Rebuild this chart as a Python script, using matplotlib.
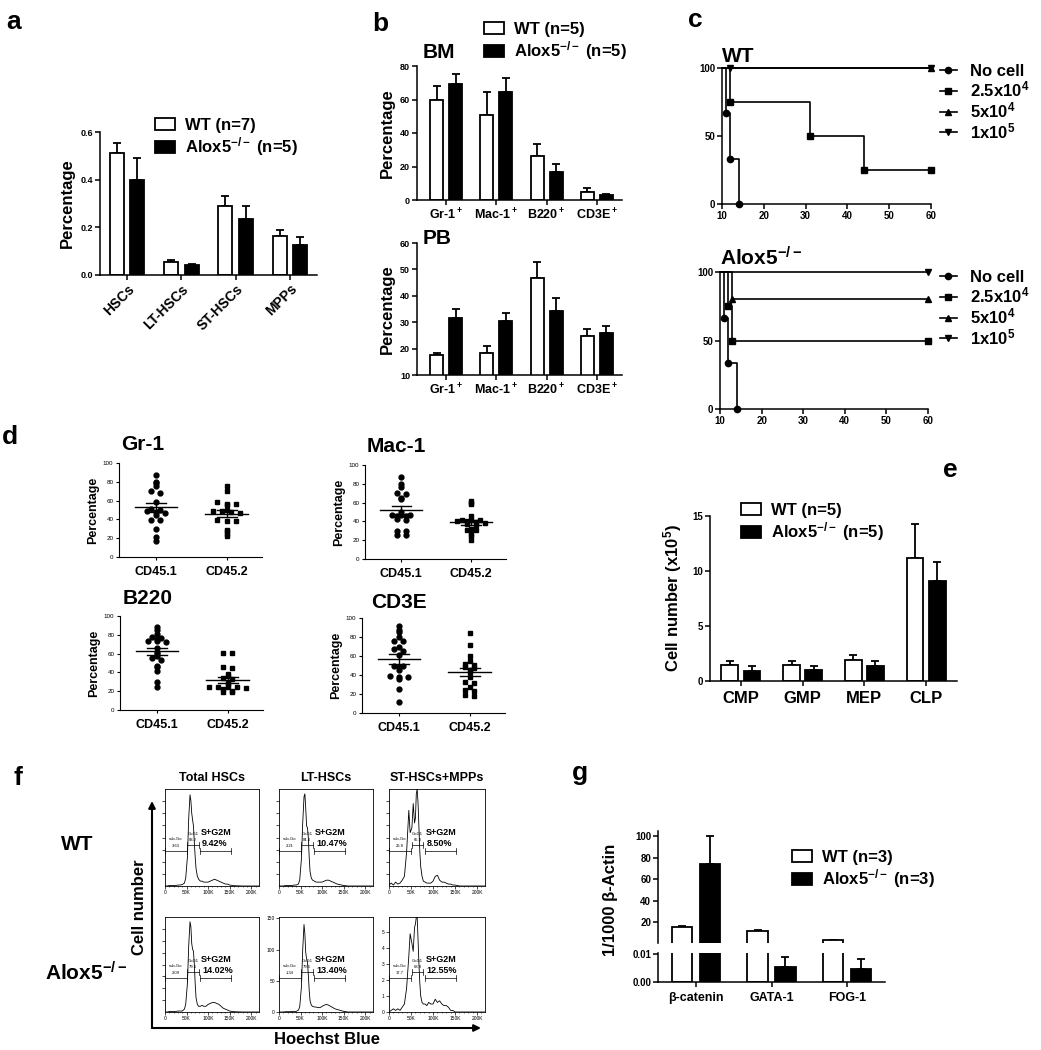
import numpy as np
import matplotlib
matplotlib.use('Agg')
import matplotlib.pyplot as plt
from matplotlib.patches import Patch, FancyArrowPatch
from matplotlib.lines import Line2D
import matplotlib.transforms as mtrans

plt.rcParams['font.family'] = ['Liberation Sans', 'DejaVu Sans']
plt.rcParams['font.weight'] = 'bold'
plt.rcParams['axes.labelweight'] = 'bold'
plt.rcParams['mathtext.fontset'] = 'custom'
plt.rcParams['mathtext.rm'] = 'Liberation Sans:bold'
plt.rcParams['mathtext.it'] = 'Liberation Sans:bold'
plt.rcParams['mathtext.bf'] = 'Liberation Sans:bold'
plt.rcParams['axes.linewidth'] = 1.1

# ---- data ----
# a: stem/progenitor frequencies
a_cats = ['HSCs', 'LT-HSCs', 'ST-HSCs', 'MPPs']
a_wt = [0.51, 0.055, 0.29, 0.165]
a_wt_sem = [0.045, 0.007, 0.04, 0.025]
a_ko = [0.40, 0.042, 0.235, 0.125]
a_ko_sem = [0.09, 0.004, 0.053, 0.036]

# b: lineages in BM and PB
b_cats = ['Gr-1$^+$', 'Mac-1$^+$', 'B220$^+$', 'CD3E$^+$']
bm_wt = [59.5, 50.5, 26.5, 4.8]
bm_wt_sem = [8.5, 14.0, 7.0, 2.6]
bm_ko = [69.0, 64.5, 17.0, 3.0]
bm_ko_sem = [6.5, 8.5, 4.3, 0.6]
pb_wt = [17.5, 18.2, 46.8, 24.7]
pb_wt_sem = [1.0, 2.6, 6.0, 2.7]
pb_ko = [31.5, 30.6, 34.4, 26.0]
pb_ko_sem = [3.5, 3.0, 4.6, 2.7]

# c: survival (days, percent survival)
c_labels = ['No cell', '2.5x10$^4$', '5x10$^4$', '1x10$^5$']
c_markers = ['o', 's', '^', 'v']
wt_days = [[10, 11, 12, 14], [10, 12, 31, 44, 60], [10, 60], [10, 12, 60]]
wt_surv = [[100, 66.7, 33.3, 0], [100, 75, 50, 25, 25], [100, 100], [100, 100, 100]]
ko_days = [[10, 11, 12, 14], [10, 12, 13, 60], [10, 13, 60], [10, 60]]
ko_surv = [[100, 66.7, 33.3, 0], [100, 75, 50, 50], [100, 80, 80], [100, 100]]

# d: donor chimerism
d_titles = ['Gr-1', 'Mac-1', 'B220', 'CD3E']
d_groups = ['CD45.1', 'CD45.2']
gr1_wt = [87, 80, 79, 75, 70, 68, 58, 51, 50, 49, 48, 47, 45, 39, 39, 30, 21, 17]
gr1_ko = [75, 70, 58, 56, 56, 55, 50, 49, 49, 48, 47, 39, 38, 38, 29, 28, 24, 22]
mac_wt = [87, 80, 77, 70, 69, 65, 64, 50, 47, 47, 47, 46, 46, 43, 42, 30, 30, 26, 26]
mac_ko = [62, 60, 58, 46, 42, 41, 41, 40, 40, 39, 38, 37, 36, 32, 31, 31, 27, 24, 20]
b220_wt = [88, 85, 81, 78, 77, 76, 73, 73, 72, 66, 62, 60, 57, 55, 53, 47, 46, 42, 30, 25]
b220_ko = [61, 61, 46, 45, 38, 36, 34, 33, 29, 28, 25, 25, 24, 24, 23, 22, 20, 19, 19]
cd3e_wt = [92, 87, 85, 80, 76, 76, 69, 67, 65, 61, 50, 50, 48, 45, 39, 38, 38, 36, 25, 12]
cd3e_ko = [84, 72, 60, 55, 52, 51, 48, 47, 45, 43, 38, 33, 32, 27, 24, 23, 19, 18]

# e: progenitor numbers (x10^5)
e_cats = ['CMP', 'GMP', 'MEP', 'CLP']
e_wt = [1.45, 1.45, 1.9, 11.2]
e_wt_sem = [0.4, 0.35, 0.5, 3.1]
e_ko = [0.95, 1.0, 1.35, 9.1]
e_ko_sem = [0.45, 0.4, 0.5, 1.7]

# f: Hoechst histograms (x in K)
f_cols = ['Total HSCs', 'LT-HSCs', 'ST-HSCs+MPPs']
f_x = [0, 5, 10, 15, 20, 25, 30, 35, 40, 45, 48, 52, 55, 58, 60, 62, 64, 66, 68, 70,
       72, 75, 78, 82, 86, 90, 95, 100, 105, 110, 115, 120, 125, 130, 135, 140, 145,
       150, 160, 180, 220]
wt_total = [0, 0, 0.5, 0.5, 0.5, 0.5, 1, 1, 1.5, 3, 8, 30, 70, 94, 88, 75, 68, 62, 45, 30,
            18, 10, 7, 5, 5, 4, 4, 4, 5, 6, 7, 6, 5, 4, 3, 2, 2, 1, 0.3, 0, 0]
wt_lt = [0, 0, 0, 0.5, 0.5, 0.5, 0.5, 1, 1, 2, 6, 28, 65, 92, 95, 80, 62, 60, 50, 30,
         15, 8, 6, 5, 4, 4, 4, 4, 5, 6, 6, 5, 4, 3, 2, 1.5, 1, 0.5, 0, 0, 0]
wt_st = [1, 3, 1, 4, 2, 3, 6, 10, 35, 78, 55, 60, 85, 65, 70, 95, 100, 85, 60, 35,
         20, 10, 5, 4, 3, 3, 3, 5, 10, 11, 6, 4, 4, 3, 2, 2, 1, 1, 0, 0, 0]
ko_total = [0, 0, 0.5, 0.5, 0.5, 0.5, 1, 1, 1, 3, 8, 30, 70, 95, 90, 72, 66, 64, 50, 30,
            15, 8, 6, 6, 7, 6, 6, 8, 9, 10, 10, 9, 8, 6, 4, 3, 2, 1, 0.3, 0, 0]
ko_lt = [0, 0, 0, 0.5, 0.5, 0.5, 1, 1, 1, 3, 8, 40, 100, 140, 125, 95, 85, 80, 60, 35,
         18, 11, 9, 8, 8, 7, 7, 9, 11, 12, 11, 9, 7, 5, 4, 3, 2, 1, 0, 0, 0]
ko_st = [0, 0.1, 0.2, 0.1, 0.2, 0.1, 0.3, 0.5, 1.5, 3.5, 4.9, 4.3, 3.8, 5.3, 5.5, 5.95,
         5.95, 4.5, 3.0, 1.8, 1.0, 0.6, 0.5, 0.5, 0.4, 0.6, 0.5, 0.5, 0.8, 0.6, 0.7, 0.5,
         0.4, 0.4, 0.3, 0.1, 0.1, 0, 0, 0, 0]
f_sub = [['3.63', '2.21', '26.8'], ['2.09', '1.34', '17.7']]
f_g0g1 = [['83.2', '84.3', '65.3'], ['79.6', '79.5', '68.9']]
f_sg2m = [['9.42%', '10.47%', '8.50%'], ['14.02%', '13.40%', '12.55%']]

# g: qPCR relative to beta-actin
g_cats = ['\u03b2-catenin', 'GATA-1', 'FOG-1']
g_wt = [16, 12.5, 3.5]
g_wt_sem = [0.8, 0.5, 0.3]
g_ko = [74, 0.0053, 0.0046]
g_ko_sem = [26, 0.0036, 0.0036]

# ---- figure ----
W, H = 1041, 1050
fig = plt.figure(figsize=(W / 100, H / 100), dpi=100)


def add_ax(l, t, r, b):
    return fig.add_axes([l / W, 1 - b / H, (r - l) / W, (b - t) / H])


def fpos(x, y):
    return (x / W, 1 - y / H)


def ftext(x, y, s, size, **kw):
    kw.setdefault('ha', 'center')
    kw.setdefault('va', 'center')
    fig.text(x / W, 1 - y / H, s, fontsize=size, fontweight='bold', **kw)


def prism(ax, size=6.5):
    for s in ['top', 'right']:
        ax.spines[s].set_visible(False)
    ax.tick_params(direction='out', length=3.5, width=1.1, labelsize=size, pad=1.5)


def grouped_bars(ax, wt, wt_sem, ko, ko_sem, off=0.19, width=0.26, cap=3, floor=None):
    x = np.arange(len(wt))
    ax.bar(x - off, wt, width, color='white', edgecolor='black', lw=1.3, zorder=2)
    ax.bar(x + off, ko, width, color='black', edgecolor='black', lw=1.3, zorder=2)
    for xs, v, e in [(x - off, wt, wt_sem), (x + off, ko, ko_sem)]:
        v = np.asarray(v, float)
        e = np.asarray(e, float)
        keep = np.ones(len(v), bool) if floor is None else v > floor
        ax.errorbar(xs[keep], v[keep], yerr=[np.zeros(keep.sum()), e[keep]], fmt='none',
                    ecolor='black', elinewidth=1.3, capsize=cap, capthick=1.3, zorder=1)
    ax.set_xticks(x)


def bar_legend(ax, labels, xy, fs=12):
    handles = [Patch(facecolor='white', edgecolor='black', lw=1.3),
               Patch(facecolor='black', edgecolor='black', lw=1.3)]
    ax.legend(handles, labels, loc='upper left', bbox_to_anchor=fpos(*xy),
              bbox_transform=fig.transFigure, frameon=False, fontsize=fs,
              handlelength=1.2, handleheight=0.7, handletextpad=0.6,
              labelspacing=0.15, borderpad=0, borderaxespad=0)


# panel letters
for s, x, y in [('a', 14, 22), ('b', 380, 24), ('c', 695, 20), ('d', 10, 437),
                ('e', 950, 470), ('f', 18, 778), ('g', 580, 773)]:
    ftext(x, y, s, 19)

# ---- a ----
ax = add_ax(100, 132, 317, 275)
prism(ax)
grouped_bars(ax, a_wt, a_wt_sem, a_ko, a_ko_sem)
ax.set_xlim(-0.5, 3.5)
ax.set_ylim(0, 0.6)
ax.set_yticks([0, 0.2, 0.4, 0.6])
ax.set_xticklabels(a_cats, rotation=45, ha='right', rotation_mode='anchor', fontsize=10)
ax.set_ylabel('Percentage', fontsize=12, labelpad=4)
bar_legend(ax, ['WT (n=7)', 'Alox5$^{-/-}$ (n=5)'], (155, 118))

# ---- b ----
ax = add_ax(417, 66, 622, 200)
prism(ax)
grouped_bars(ax, bm_wt, bm_wt_sem, bm_ko, bm_ko_sem)
ax.set_xlim(-0.58, 3.5)
ax.set_ylim(0, 80)
ax.set_yticks([0, 20, 40, 60, 80])
ax.set_xticklabels(b_cats, fontsize=9)
ax.set_ylabel('Percentage', fontsize=12, labelpad=4)
bar_legend(ax, ['WT (n=5)', 'Alox5$^{-/-}$ (n=5)'], (484, 22))
ftext(423, 53, 'BM', 15, ha='left')

ax = add_ax(417, 243, 622, 375)
prism(ax)
grouped_bars(ax, pb_wt, pb_wt_sem, pb_ko, pb_ko_sem)
ax.set_xlim(-0.58, 3.5)
ax.set_ylim(10, 60)
ax.set_yticks([10, 20, 30, 40, 50, 60])
ax.set_xticklabels(b_cats, fontsize=9)
ax.set_ylabel('Percentage', fontsize=12, labelpad=4)
ftext(423, 238, 'PB', 15, ha='left')


# ---- c ----
def km_panel(box, days, surv, title, title_y, leg_xy):
    ax = add_ax(*box)
    prism(ax, size=7)
    for t, s, m in zip(days, surv, c_markers):
        ax.step(t, s, where='post', color='black', lw=1.2, clip_on=False)
        ax.plot(t[1:], s[1:], ls='none', marker=m, color='black', ms=4.5, clip_on=False)
    ax.set_xlim(10, 60)
    ax.set_ylim(0, 100)
    ax.set_xticks([10, 20, 30, 40, 50, 60])
    ax.set_yticks([0, 50, 100])
    handles = [Line2D([], [], color='black', lw=1.2, marker=m, ms=4.5) for m in c_markers]
    ax.legend(handles, c_labels, loc='upper left', bbox_to_anchor=fpos(*leg_xy),
              bbox_transform=fig.transFigure, frameon=False, fontsize=12,
              handlelength=1.0, handletextpad=0.8, labelspacing=0.05,
              borderpad=0, borderaxespad=0)
    ftext(box[0], title_y, title, 15, ha='left')
    return ax


km_panel((722, 68, 931, 204), wt_days, wt_surv, 'WT', 56, (940, 64))
km_panel((720, 272, 928, 409), ko_days, ko_surv, 'Alox5$^{-/-}$', 258, (940, 270))


# ---- d ----
def swarm_offsets(vals, bin_w=3.0, step=0.13):
    vals = np.asarray(vals, float)
    keys = np.round(vals / bin_w)
    offs = np.zeros(len(vals))
    for k in np.unique(keys):
        idx = np.where(keys == k)[0]
        offs[idx] = (np.arange(len(idx)) - (len(idx) - 1) / 2) * step
    return offs


d_sets = [(gr1_wt, gr1_ko), (mac_wt, mac_ko), (b220_wt, b220_ko), (cd3e_wt, cd3e_ko)]
d_boxes = [(119, 463, 262, 557), (365, 465, 506, 559), (120, 616, 263, 710), (362, 618, 505, 713)]
d_title_xy = [(121, 444), (367, 447), (123, 598), (371, 602)]
for (wt, ko), box, title, (tx, ty) in zip(d_sets, d_boxes, d_titles, d_title_xy):
    ax = add_ax(*box)
    prism(ax, size=4.5)
    ax.tick_params(length=2.5, width=0.8)
    for sp in ['left', 'bottom']:
        ax.spines[sp].set_linewidth(0.8)
    for i, (vals, m) in enumerate([(wt, 'o'), (ko, 's')]):
        v = np.asarray(vals, float)
        ax.plot(i + swarm_offsets(v), v, ls='none', marker=m, color='black',
                ms=3.5 if m == 'o' else 3.3)
        mean = v.mean()
        sem = v.std(ddof=1) / np.sqrt(len(v))
        ax.plot([i - 0.3, i + 0.3], [mean, mean], color='black', lw=1.0)
        ax.plot([i - 0.14, i + 0.14], [mean + sem] * 2, color='black', lw=1.0)
        ax.plot([i - 0.14, i + 0.14], [mean - sem] * 2, color='black', lw=1.0)
        ax.plot([i, i], [mean - sem, mean + sem], color='black', lw=1.0)
    ax.set_xlim(-0.52, 1.5)
    ax.set_ylim(0, 100)
    ax.set_yticks([0, 20, 40, 60, 80, 100])
    ax.set_xticks([0, 1])
    ax.set_xticklabels(d_groups, fontsize=9)
    ax.tick_params(axis='x', labelsize=9, pad=4)
    for lab in ax.get_yticklabels():
        lab.set_fontweight('normal')
    ax.set_ylabel('Percentage', fontsize=9, labelpad=3)
    ftext(tx, ty, title, 15, ha='left')

# ---- e ----
ax = add_ax(710, 516, 957, 681)
prism(ax, size=7)
grouped_bars(ax, e_wt, e_wt_sem, e_ko, e_ko_sem, off=0.18, width=0.27)
ax.set_xlim(-0.5, 3.5)
ax.set_ylim(0, 15)
ax.set_yticks([0, 5, 10, 15])
ax.set_xticklabels(e_cats, fontsize=12)
ax.tick_params(axis='x', pad=4)
ax.set_ylabel('Cell number (x10$^5$)', fontsize=12, labelpad=6)
bar_legend(ax, ['WT (n=5)', 'Alox5$^{-/-}$ (n=5)'], (741, 503))

# ---- f ----
f_hists = [[wt_total, wt_lt, wt_st], [ko_total, ko_lt, ko_st]]
f_xcols = [(165, 259), (279, 373), (389, 485)]
f_rows = [(789, 886), (917, 1012)]
f_ylims = [[100, 100, 100], [100, 152, 5.95]]
f_yticks = [[None, None, None], [None, [0, 50, 100, 150], [0, 1, 2, 3, 4, 5]]]
for r, (t, b) in enumerate(f_rows):
    for c, (l, rr) in enumerate(f_xcols):
        ax = add_ax(l, t, rr, b)
        ax.plot(f_x, f_hists[r][c], color='black', lw=0.6)
        ax.set_xlim(0, 218)
        ax.set_ylim(0, f_ylims[r][c])
        ax.set_xticks([0, 50, 100, 150, 200])
        ax.set_xticklabels(['0', '50K', '100K', '150K', '200K'])
        ax.set_xticks(np.arange(0, 220, 10), minor=True)
        if f_yticks[r][c] is None:
            ax.set_yticks(np.linspace(0, f_ylims[r][c], 9)[1:-1])
            ax.set_yticklabels([])
        else:
            ax.set_yticks(f_yticks[r][c])
        ax.tick_params(labelsize=3.5, length=2, width=0.5, pad=1)
        ax.tick_params(which='minor', length=1, width=0.4)
        for lab in ax.get_xticklabels() + ax.get_yticklabels():
            lab.set_fontweight('normal')
        for sp in ax.spines.values():
            sp.set_linewidth(0.6)
        tr = mtrans.blended_transform_factory(ax.transData, ax.transAxes)
        for (x0, x1, yy) in [(0, 50, 0.36), (52, 78, 0.42), (81, 152, 0.36)]:
            ax.plot([x0, x1], [yy, yy], color='black', lw=0.5, transform=tr)
            ax.plot([x0, x0], [yy - 0.03, yy + 0.03], color='black', lw=0.5, transform=tr)
            ax.plot([x1, x1], [yy - 0.03, yy + 0.03], color='black', lw=0.5, transform=tr)
        ax.text(25, 0.47, 'sub-Go', transform=tr, fontsize=3, ha='center', fontweight='normal')
        ax.text(25, 0.40, f_sub[r][c], transform=tr, fontsize=3, ha='center', fontweight='normal')
        ax.text(65, 0.53, 'GoG1', transform=tr, fontsize=3, ha='center', fontweight='normal')
        ax.text(65, 0.46, f_g0g1[r][c], transform=tr, fontsize=3, ha='center', fontweight='normal')
        ax.text(84, 0.53, 'S+G2M', transform=tr, fontsize=6.5, ha='left')
        ax.text(86, 0.41, f_sg2m[r][c], transform=tr, fontsize=6.5, ha='left')
for (l, rr), name in zip(f_xcols, f_cols):
    ftext((l + rr) / 2, 778, name, 9)
ftext(77, 845, 'WT', 15)
ftext(86, 973, 'Alox5$^{-/-}$', 15)
ftext(140, 907, 'Cell number', 12, rotation=90)
ftext(327, 1040, 'Hoechst Blue', 12)
for end in [(152, 801), (481, 1028)]:
    fig.add_artist(FancyArrowPatch(fpos(152, 1028), fpos(*end), transform=fig.transFigure,
                                   arrowstyle='-|>', mutation_scale=10, lw=1.5,
                                   color='black', shrinkA=0, shrinkB=0))

# ---- g (broken y axis) ----
ax_u = add_ax(658, 831, 885, 943)
ax_l = add_ax(658, 953, 885, 982)
for ax, fl in ((ax_u, 1.0), (ax_l, None)):
    prism(ax, size=7)
    grouped_bars(ax, g_wt, g_wt_sem, g_ko, g_ko_sem, off=0.185, width=0.265, floor=fl)
    ax.set_xlim(-0.5, 2.5)
ax_u.set_ylim(1, 104.7)
ax_u.set_yticks([20, 40, 60, 80, 100])
ax_u.spines['bottom'].set_visible(False)
ax_u.tick_params(axis='x', bottom=False, labelbottom=False)
ax_l.set_ylim(0, 0.0102)
ax_l.set_yticks([0, 0.01])
ax_l.set_yticklabels(['0.00', '0.01'])
ax_l.set_xticklabels(g_cats, fontsize=9)
ax_l.tick_params(axis='x', pad=4)
ftext(610, 900, '1/1000 \u03b2-Actin', 12, rotation=90)
bar_legend(ax_u, ['WT (n=3)', 'Alox5$^{-/-}$ (n=3)'], (792, 850))

fig.savefig('out.png', dpi=100)
